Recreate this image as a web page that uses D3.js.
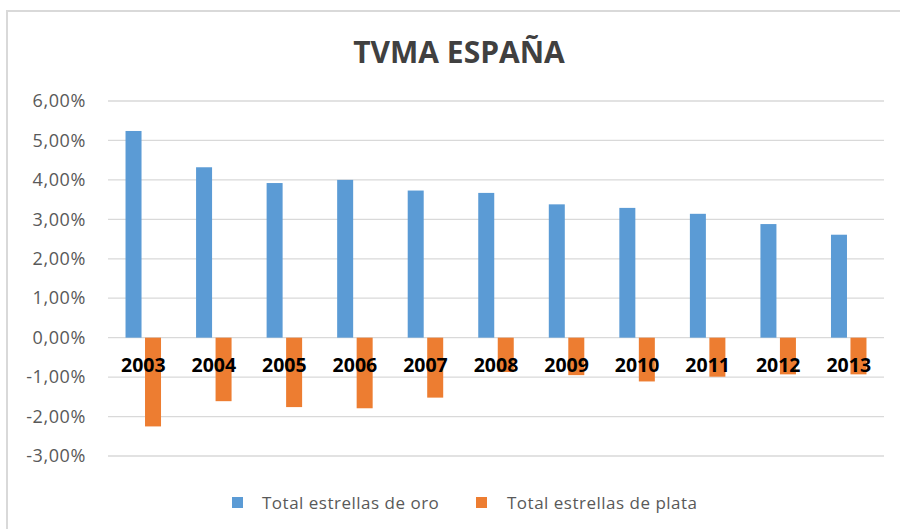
<!DOCTYPE html>
<html><head><meta charset="utf-8">
<script src="https://cdn.jsdelivr.net/npm/d3@7"></script>
<style>body{margin:0;background:#fff}</style>
</head><body><svg id="c" width="900" height="529"></svg>
<script>
const categories = ["2003","2004","2005","2006","2007","2008","2009","2010","2011","2012","2013"];
const oro = [5.24, 4.32, 3.92, 4.00, 3.73, 3.67, 3.38, 3.29, 3.14, 2.88, 2.61];
const plata = [-2.25, -1.61, -1.76, -1.79, -1.52, -0.87, -0.95, -1.11, -0.99, -0.93, -0.93];
const yTicks = [6,5,4,3,2,1,0,-1,-2,-3];
const seriesNames = ["Total estrellas de oro","Total estrellas de plata"];
const colors = ["#5b9bd5","#ed7d31"];

const svg = d3.select("#c");
const W = 900, H = 529;
// border
svg.append("path").attr("d", `M7,${H} L7,11 L${W},11`).attr("fill","none").attr("stroke","#d9d9d9").attr("stroke-width",2);

const x = d3.scaleBand().domain(categories).range([108, 884]).paddingInner(0).paddingOuter(0);
const y = d3.scaleLinear().domain([-3, 6]).range([456, 101]);
const fmt = v => d3.format(".2f")(v).replace(".", ",").replace("\u2212","-") + "%";

// gridlines
svg.append("g").selectAll("line").data(yTicks).join("line")
  .attr("x1",108).attr("x2",884).attr("y1",d=>y(d)).attr("y2",d=>y(d))
  .attr("stroke","#d9d9d9").attr("stroke-width",1.3);

// y axis labels
const yAxis = d3.axisLeft(y).tickValues(yTicks).tickFormat(fmt).tickSize(0).tickPadding(0);
const ya = svg.append("g").attr("transform","translate(86,0)").call(yAxis);
ya.select(".domain").remove();
ya.selectAll("text").attr("font-family","'Open Sans', sans-serif").attr("font-size",18).attr("letter-spacing","0.6px").attr("fill","#595959");

// bars
const bw = 16, gap = 3.5;
const g = svg.append("g");
const bwTotal = bw*2+gap;
[oro, plata].forEach((vals, si) => {
  g.selectAll(".s"+si).data(categories).join("rect")
    .attr("x", (d,i) => x(d) + (x.bandwidth()-bwTotal)/2 + si*(bw+gap))
    .attr("width", bw)
    .attr("y", (d,i) => Math.min(y(vals[i]), y(0)))
    .attr("height", (d,i) => Math.abs(y(vals[i]) - y(0)))
    .attr("fill", colors[si]);
});

// category labels
const xAxis = d3.axisBottom(x).tickSize(0).tickPadding(0);
const xa = svg.append("g").attr("transform",`translate(0,${y(0)+20})`).call(xAxis);
xa.select(".domain").remove();
xa.selectAll("text").attr("font-family","'Open Sans', sans-serif").attr("font-weight","bold").attr("font-size",19.5).attr("fill","#000");

// title
svg.append("text").attr("x",459).attr("y",63).attr("text-anchor","middle")
  .attr("font-family","'Open Sans', sans-serif").attr("font-weight","bold").attr("font-size",30).attr("fill","#404040")
  .text("TVMA ESPAÑA");

// legend
const leg = [{x:232, tx:262}, {x:476, tx:507}];
seriesNames.forEach((n,i) => {
  svg.append("rect").attr("x",leg[i].x).attr("y",497).attr("width",11).attr("height",11).attr("fill",colors[i]);
  svg.append("text").attr("x",leg[i].tx).attr("y",509).attr("font-family","'Open Sans', sans-serif")
    .attr("font-size",17).attr("letter-spacing","0.5px").attr("fill","#595959").text(n);
});
</script></body></html>
